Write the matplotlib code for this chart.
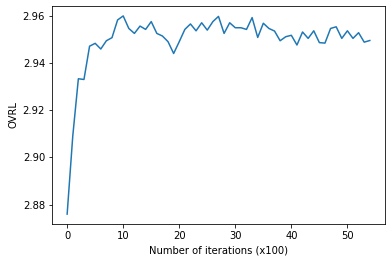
import numpy as np
import matplotlib
matplotlib.use('Agg')
import matplotlib.pyplot as plt

# OVRL score per checkpoint (every 100 iterations)
iterations = np.arange(55)
ovrl = [2.876, 2.909, 2.9333, 2.933, 2.9471, 2.9483, 2.9459, 2.9494, 2.9507, 2.9582,
        2.9599, 2.9546, 2.9525, 2.9556, 2.9542, 2.9575, 2.9525, 2.9514, 2.9490, 2.9440,
        2.9490, 2.9542, 2.9565, 2.9536, 2.9570, 2.9539, 2.9575, 2.9597, 2.9525, 2.9570,
        2.9549, 2.9549, 2.9542, 2.9592, 2.9508, 2.9568, 2.9546, 2.9535, 2.9494, 2.9511,
        2.9517, 2.9476, 2.9531, 2.9504, 2.9536, 2.9486, 2.9484, 2.9546, 2.9553, 2.9504,
        2.9536, 2.9504, 2.9528, 2.9488, 2.9495]

fig = plt.figure(figsize=(392 / 72, 262 / 72), dpi=72)
ax = fig.add_subplot(111)
fig.subplots_adjust(left=0.1327, right=0.982, top=0.977, bottom=0.145)

ax.plot(iterations, ovrl, color='#1f77b4', linewidth=1.5)
ax.set_xlabel('Number of iterations (x100)')
ax.set_ylabel('OVRL')

fig.savefig('out.png', dpi=72)
